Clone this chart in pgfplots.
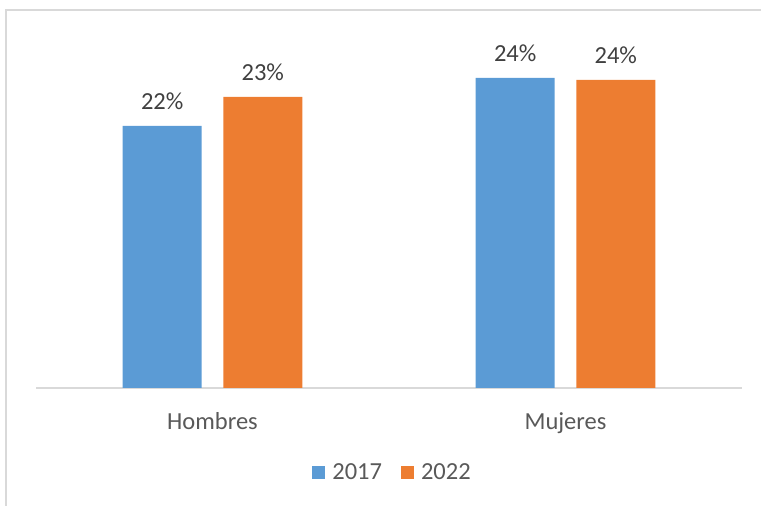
\documentclass[border=0pt]{standalone}
\usepackage{pgfplots}
\pgfplotsset{compat=1.18}
\usepackage{fontspec}
\setmainfont{Carlito}
\definecolor{cblue}{HTML}{5B9BD5}
\definecolor{corange}{HTML}{ED7D31}
\definecolor{ctext}{HTML}{404040}
\definecolor{caxis}{HTML}{595959}
\definecolor{cgrid}{HTML}{D9D9D9}
\begin{document}
\begin{tikzpicture}[x=1pt,y=1pt]
\useasboundingbox (0,0) rectangle (761,506);
\draw[cgrid, line width=1.2pt] (6,-5) -- (6,496) -- (770,496);
\begin{axis}[
  at={(36pt,118pt)}, anchor=south west,
  scale only axis, width=706pt, height=350pt,
  ymin=15, ymax=25,
  xmin=-0.5, xmax=1.5,
  xtick={0,1}, xticklabels={Hombres,Mujeres},
  ytick=\empty,
  axis y line=none,
  axis x line=bottom,
  x axis line style={draw=cgrid, line width=1.2pt, -},
  major tick length=0pt,
  xticklabel style={font=\fontsize{24.5}{29}\selectfont, color=caxis, yshift=-21pt},
  ybar, bar width=79pt,
  point meta=y,
  nodes near coords={\pgfmathprintnumber[fixed,precision=0,assume math mode=true]{\pgfplotspointmeta}\%},
  every node near coord/.append style={font=\fontsize{24.5}{29}\selectfont, color=ctext, anchor=south, yshift=13pt},
  legend columns=2,
  legend style={at={(0.505,-0.24)}, anchor=center, draw=none, fill=none,
    font=\fontsize{24.5}{29}\selectfont, text=caxis,
    /tikz/every odd column/.append style={column sep=5pt},
    /tikz/every even column/.append style={column sep=17pt}},
  legend image code/.code={\draw[#1, draw=none] (0pt,-6.5pt) rectangle (13pt,6.5pt);},
]
\addplot[fill=cblue, draw=none, bar shift=-50.3pt] coordinates {(0,22.49) (1,23.86)};
\addplot[fill=corange, draw=none, bar shift=50.3pt] coordinates {(0,23.32) (1,23.80)};
\legend{2017,2022}
\end{axis}
\end{tikzpicture}
\end{document}
